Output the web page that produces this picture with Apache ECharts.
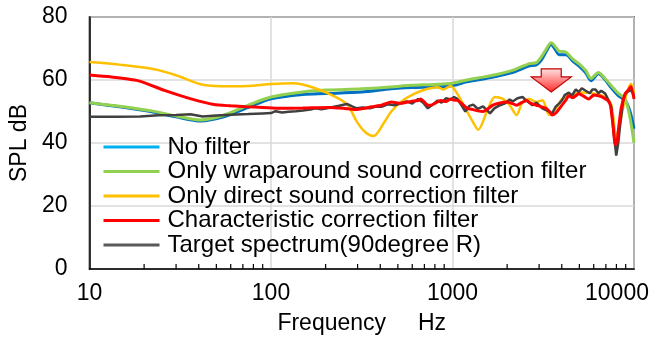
<!DOCTYPE html>
<html>
<head>
<meta charset="utf-8">
<script src="https://cdn.jsdelivr.net/npm/echarts@6/dist/echarts.min.js"></script>
<style>
  html, body { margin: 0; padding: 0; background: #fff; }
  #chart { width: 667px; height: 340px; }
</style>
</head>
<body>
<div id="chart"></div>
<script>
// values (frequency in Hz, level in dB)
var noFilterHz = [10, 15, 22, 30, 41, 55, 75, 100, 150, 200, 316, 460, 591, 800, 1000, 1200, 1500, 1824, 2200, 2655, 2897, 3100, 3300, 3494, 3700, 3861, 4218, 4600, 4963, 5420, 5800, 6368, 6953, 7499, 8185, 8933, 9506, 10000];
var noFilterDb = [52.8, 51.4, 49.9, 48.3, 47.0, 48.3, 51.3, 54.0, 55.4, 55.7, 56.2, 57.2, 57.6, 57.8, 58.2, 59.4, 60.4, 61.4, 62.6, 64.5, 64.8, 66.5, 69.3, 71.3, 69.5, 68.0, 68.0, 66.0, 64.5, 62.3, 59.8, 62.0, 60.0, 57.5, 55.0, 53.5, 50.0, 44.5];

var wrapHz = [10, 15, 22, 30, 41, 55, 75, 100, 150, 200, 316, 460, 591, 800, 1000, 1200, 1500, 1824, 2200, 2655, 2897, 3100, 3300, 3494, 3700, 3861, 4218, 4600, 4963, 5420, 5800, 6368, 6953, 7499, 8185, 8933, 9506, 10000];
var wrapDb = [52.8, 51.6, 50.2, 48.6, 47.3, 48.8, 52.0, 54.6, 56.2, 56.8, 57.2, 57.8, 58.3, 58.6, 59.0, 60.0, 61.0, 62.0, 63.3, 65.2, 65.5, 67.5, 70.0, 71.8, 70.5, 69.2, 68.8, 66.6, 65.2, 63.0, 60.5, 62.4, 60.3, 58.2, 55.8, 54.0, 48.0, 40.0];

var directHz = [10, 15, 22.8, 30, 42.7, 60, 80, 100, 132, 149, 169, 209, 262, 297, 330, 367, 420, 460, 521, 614, 731, 828, 893, 975, 1064, 1177, 1301, 1385, 1549, 1714, 1893, 2066, 2256, 2432, 2655, 2897, 3128, 3411, 3723, 4009, 4374, 5155, 6138, 6953, 7499, 7983, 8933, 9626, 10000];
var directDb = [65.7, 64.8, 63.4, 61.5, 58.4, 58.0, 58.2, 58.7, 59.0, 58.6, 57.7, 55.6, 52.3, 46.8, 43.5, 42.2, 46.5, 50.0, 53.1, 55.6, 57.2, 57.7, 57.0, 58.1, 55.6, 51.0, 46.5, 44.2, 50.0, 54.6, 54.0, 52.0, 48.9, 53.0, 54.0, 53.0, 53.6, 48.9, 50.9, 54.0, 55.0, 56.0, 55.6, 54.6, 52.0, 42.5, 54.0, 58.8, 56.0];

var charHz = [10, 13, 18.5, 25.9, 36.3, 48.4, 60, 73, 90, 112, 150, 209, 250, 290, 330, 358, 406, 460, 520, 591, 646, 670, 700, 731, 759, 800, 861, 920, 975, 1020, 1064, 1130, 1207, 1300, 1380, 1474, 1560, 1671, 1800, 1989, 2120, 2256, 2400, 2558, 2700, 2897, 3050, 3283, 3420, 3541, 3723, 4009, 4200, 4374, 4600, 4963, 5300, 5623, 6000, 6368, 6700, 6953, 7200, 7413, 7650, 7889, 8050, 8185, 8500, 8933, 9300, 9626, 10000];
var charDb = [61.6, 61.0, 59.8, 56.7, 54.0, 52.2, 51.8, 51.5, 51.3, 51.0, 51.1, 51.3, 51.0, 50.6, 51.0, 51.5, 52.0, 53.0, 52.6, 53.2, 53.5, 54.0, 53.0, 52.0, 52.0, 52.6, 53.5, 53.2, 54.0, 53.6, 53.5, 52.4, 51.0, 50.6, 50.2, 50.0, 50.8, 52.0, 52.6, 53.0, 52.6, 52.0, 52.8, 53.5, 52.6, 52.0, 51.6, 51.0, 50.0, 48.9, 49.6, 52.0, 53.5, 55.0, 54.4, 55.6, 54.8, 54.0, 55.2, 55.0, 54.6, 54.0, 53.4, 52.0, 46.0, 39.5, 40.0, 43.6, 51.0, 55.6, 56.8, 57.9, 54.0];

var targetHz = [10, 14, 19, 24, 30, 36, 42, 50, 60, 75, 90, 100, 106, 115, 125, 137, 150, 165, 176, 190, 210, 237, 262, 280, 297, 320, 350, 380, 406, 440, 480, 521, 560, 600, 646, 690, 731, 780, 828, 870, 920, 975, 1020, 1064, 1120, 1177, 1240, 1301, 1380, 1474, 1540, 1609, 1700, 1824, 1950, 2066, 2146, 2280, 2432, 2560, 2756, 2900, 3128, 3300, 3541, 3700, 3861, 4009, 4150, 4374, 4550, 4779, 4963, 5155, 5420, 5700, 5900, 6138, 6368, 6600, 6953, 7250, 7499, 7700, 7983, 8185, 8400, 8700, 8933, 9300, 9626, 10000];
var targetDb = [48.3, 48.3, 48.4, 48.8, 48.9, 49.1, 48.4, 48.7, 49.0, 49.2, 49.4, 49.5, 50.1, 49.7, 49.9, 50.1, 50.3, 50.6, 51.0, 50.7, 51.2, 51.8, 52.4, 51.6, 51.0, 51.3, 51.0, 51.6, 51.5, 52.3, 52.0, 52.6, 53.2, 52.5, 54.0, 52.8, 51.0, 52.2, 53.5, 52.8, 54.2, 53.8, 54.6, 54.0, 52.0, 50.0, 51.8, 52.2, 50.8, 51.6, 50.6, 49.4, 51.0, 52.0, 52.6, 53.8, 53.2, 54.2, 54.6, 53.4, 52.0, 52.8, 51.0, 50.4, 49.4, 51.5, 52.5, 53.5, 55.2, 56.0, 55.0, 57.0, 56.2, 57.4, 56.6, 55.8, 57.0, 57.0, 55.8, 56.6, 55.6, 53.5, 51.5, 44.0, 36.0, 40.0, 46.0, 53.0, 55.6, 56.4, 56.8, 55.0];

// minor tick positions of the log axis and the arrow annotation
var minorTicks = [20, 30, 40, 50, 60, 70, 80, 90, 200, 300, 400, 500, 600, 700, 800, 900, 2000, 3000, 4000, 5000, 6000, 7000, 8000, 9000];
var arrowAt = [[3500, 56.2]];

var FONT = '"Liberation Sans", Arial, sans-serif';

function pairs(xs, ys) {
    return xs.map(function (x, i) { return [x, ys[i]]; });
}

function lineSeries(name, hz, db, color, width, z, smooth) {
    return {
        name: name,
        type: 'line',
        data: pairs(hz, db),
        symbol: 'none',
        smooth: smooth,
        z: z,
        lineStyle: { color: color, width: width },
        itemStyle: { color: color }
    };
}

var chart = echarts.init(document.getElementById('chart'));

chart.setOption({
    animation: false,
    textStyle: { fontFamily: FONT },
    grid: {
        left: 84, right: 33, top: 17, bottom: 67,
        show: true, borderColor: '#000', borderWidth: 1.5
    },
    legend: {
        orient: 'vertical',
        left: 102,
        top: 135,
        padding: 0,
        itemWidth: 56,
        itemHeight: 2,
        itemGap: 0.5,
        // the line icon of a line series carries a symbol; hide it
        itemStyle: { opacity: 0 },
        textStyle: { fontSize: 24, lineHeight: 24, color: '#000', fontFamily: FONT, padding: [0, 0, 0, 3] },
        data: [
            { name: 'No filter', lineStyle: { color: '#00B0F0', width: 3 } },
            { name: 'Only wraparound sound correction filter', lineStyle: { width: 3 } },
            { name: 'Only direct sound correction filter', lineStyle: { width: 3 } },
            { name: 'Characteristic correction filter', lineStyle: { width: 3 } },
            { name: 'Target spectrum(90degree R)', lineStyle: { color: '#595959', width: 3 } }
        ]
    },
    xAxis: {
        type: 'log',
        logBase: 10,
        min: 10,
        max: 10000,
        name: 'Frequency     Hz',
        nameLocation: 'middle',
        nameGap: 43,
        nameTextStyle: { fontSize: 23, color: '#000', fontFamily: FONT },
        axisLine: { show: true, lineStyle: { color: '#000', width: 1.5 } },
        axisTick: { show: false },
        axisLabel: {
            fontSize: 23,
            color: '#000',
            margin: 13,
            fontFamily: FONT,
            formatter: function (v) {
                return v >= 10000 ? '{m|' + v + '}' : String(v);
            },
            rich: {
                m: { fontSize: 23, color: '#000', fontFamily: FONT, padding: [0, 34, 0, 0] }
            }
        },
        splitLine: { show: true, lineStyle: { color: '#d9d9d9', width: 1.5 } }
    },
    yAxis: {
        type: 'value',
        min: 0,
        max: 80,
        interval: 20,
        name: 'SPL dB',
        nameLocation: 'middle',
        nameGap: 43,
        nameTextStyle: { fontSize: 23, color: '#000', fontFamily: FONT },
        axisLine: { show: true, lineStyle: { color: '#000', width: 1.5 } },
        axisTick: { show: false },
        axisLabel: { fontSize: 23, color: '#000', margin: 22, fontFamily: FONT },
        splitLine: { show: true, lineStyle: { color: '#d9d9d9', width: 1.5 } }
    },
    series: [
        lineSeries('No filter', noFilterHz, noFilterDb, '#0070C0', 3, 2, 0.3),
        lineSeries('Only wraparound sound correction filter', wrapHz, wrapDb, '#92D050', 3, 3, 0.3),
        lineSeries('Only direct sound correction filter', directHz, directDb, '#FFC000', 2.5, 4, 0.3),
        lineSeries('Target spectrum(90degree R)', targetHz, targetDb, '#404040', 2.5, 5, false),
        lineSeries('Characteristic correction filter', charHz, charDb, '#FF0000', 3, 6, 0.2),
        {
            // small inward ticks at 20, 30, ... on the log axis
            type: 'custom',
            silent: true,
            z: 10,
            data: minorTicks.map(function (v) { return [v, 0]; }),
            encode: { x: 0, y: 1 },
            renderItem: function (params, api) {
                var p = api.coord([api.value(0), 0]);
                return {
                    type: 'line',
                    shape: { x1: p[0], y1: p[1], x2: p[0], y2: p[1] - 5 },
                    style: { stroke: '#000', lineWidth: 1.2 }
                };
            }
        },
        {
            // red block arrow pointing down
            type: 'custom',
            silent: true,
            z: 10,
            data: arrowAt,
            encode: { x: 0, y: 1 },
            renderItem: function (params, api) {
                var p = api.coord([api.value(0), api.value(1)]);
                var x = p[0], y = p[1];
                return {
                    type: 'polygon',
                    shape: {
                        points: [[x, y], [x - 20, y - 15], [x - 10, y - 15], [x - 10, y - 23],
                                 [x + 10, y - 23], [x + 10, y - 15], [x + 20, y - 15]]
                    },
                    style: {
                        fill: {
                            type: 'linear', x: 0, y: 0, x2: 0, y2: 1,
                            colorStops: [{ offset: 0, color: '#FFE3E3' }, { offset: 1, color: '#FF2A2A' }]
                        },
                        stroke: '#C00000',
                        lineWidth: 1.2
                    }
                };
            }
        }
    ]
});
</script>
</body>
</html>
